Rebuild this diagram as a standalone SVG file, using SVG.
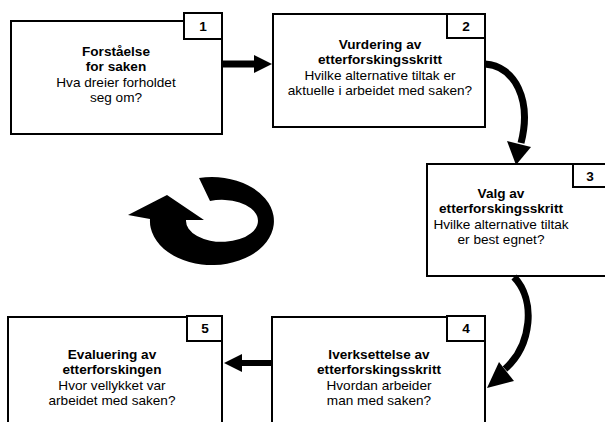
<svg xmlns="http://www.w3.org/2000/svg" width="605" height="422" viewBox="0 0 605 422">
<style>
.box{fill:#fff;stroke:#000;stroke-width:2}
.t{font-family:"Liberation Sans",Arial,sans-serif;font-size:13.6px;text-anchor:middle;fill:#000}
.b{font-weight:bold}
.conn{fill:none;stroke:#000;stroke-width:7}
</style>
<rect width="605" height="422" fill="#fff"/>
<g id="node1">
<rect class="box" x="11" y="21" width="211" height="113"/>
<rect class="box" x="184" y="13" width="38" height="26"/>
<text class="t b" x="203" y="31">1</text>
<text class="t"><tspan class="b" x="116" y="56">Forståelse</tspan><tspan class="b" x="116" y="71">for saken</tspan><tspan x="116" y="87">Hva dreier forholdet</tspan><tspan x="116" y="102">seg om?</tspan></text>
</g>
<g id="node2">
<rect class="box" x="273" y="14" width="212" height="113"/>
<rect class="box" x="447" y="14" width="38" height="24"/>
<text class="t b" x="466" y="31">2</text>
<text class="t"><tspan class="b" x="380" y="49">Vurdering av</tspan><tspan class="b" x="380" y="64">etterforskingsskritt</tspan><tspan x="380" y="80">Hvilke alternative tiltak er</tspan><tspan x="380" y="95">aktuelle i arbeidet med saken?</tspan></text>
</g>
<g id="node3">
<rect class="box" x="427" y="164" width="212" height="112"/>
<rect class="box" x="573" y="164" width="40" height="23"/>
<text class="t b" x="590" y="181">3</text>
<text class="t"><tspan class="b" x="501" y="198">Valg av</tspan><tspan class="b" x="501" y="213">etterforskingsskritt</tspan><tspan x="501" y="229">Hvilke alternative tiltak</tspan><tspan x="501" y="244">er best egnet?</tspan></text>
</g>
<g id="node4">
<rect class="box" x="272" y="317" width="213" height="120"/>
<rect class="box" x="447" y="316" width="38" height="25"/>
<text class="t b" x="466" y="333">4</text>
<text class="t"><tspan class="b" x="379" y="359">Iverksettelse av</tspan><tspan class="b" x="379" y="374">etterforskingsskritt</tspan><tspan x="379" y="390">Hvordan arbeider</tspan><tspan x="379" y="405">man med saken?</tspan></text>
</g>
<g id="node5">
<rect class="box" x="8" y="317" width="214" height="120"/>
<rect class="box" x="187" y="316" width="35" height="25"/>
<text class="t b" x="205" y="333">5</text>
<text class="t"><tspan class="b" x="112" y="359">Evaluering av</tspan><tspan class="b" x="112" y="374">etterforskingen</tspan><tspan x="112" y="390">Hvor vellykket var</tspan><tspan x="112" y="405">arbeidet med saken?</tspan></text>
</g>
<g id="connectors">
<path d="M222,64 H256" stroke="#000" stroke-width="7"/>
<polygon points="254,55 272,64 254,73"/>
<path d="M272,363 H242" stroke="#000" stroke-width="6"/>
<polygon points="242,354 224,363 242,372"/>
<path class="conn" d="M485,64 C515,66 532,100 521,143"/>
<polygon points="507,141 531,147 516,165"/>
<path class="conn" d="M514,277 C536,300 532,345 505,369"/>
<polygon points="499,362 514,381 487,388"/>
</g>
<g id="cycle">
<path d="M199,178 A62,44 0 1 1 150,219 L128,215 L167,195 L204,220 L186,220 A36,21 0 1 0 210,201 Z" fill="#000"/>
</g>
</svg>
